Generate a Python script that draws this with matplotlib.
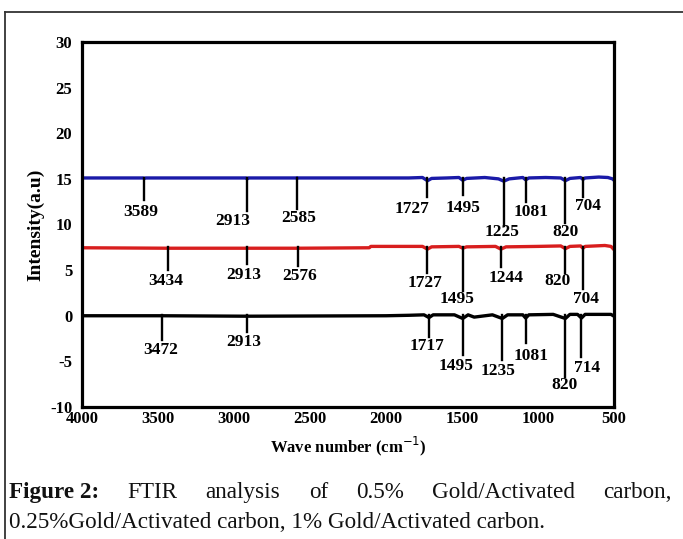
import matplotlib
matplotlib.use('Agg')
import matplotlib.pyplot as plt
from matplotlib.lines import Line2D

plt.rcParams['axes.unicode_minus'] = False

# spectra (wavenumber, intensity)
blue_x = [4000, 3600, 3589, 3580, 2920, 2913, 2905, 2590, 2585, 2580, 2000, 1850, 1760, 1727, 1700,
          1600, 1520, 1495, 1470, 1350, 1260, 1225, 1190, 1100, 1081, 1060, 950, 850, 820, 790,
          720, 704, 690, 600, 540, 510, 500]
blue_y = [15.1, 15.1, 15.05, 15.1, 15.1, 15.0, 15.1, 15.1, 15.05, 15.1, 15.1, 15.1, 15.15, 14.8, 15.05,
          15.1, 15.15, 14.85, 15.05, 15.15, 15.0, 14.75, 15.0, 15.15, 14.9, 15.1, 15.15, 15.1, 14.8, 15.05,
          15.15, 14.95, 15.1, 15.2, 15.15, 15.0, 14.85]

red_x = [4000, 3434, 2913, 2576, 2110, 2100, 1900, 1760, 1727, 1700, 1520, 1495, 1470, 1280, 1244,
         1210, 1000, 850, 820, 790, 720, 704, 690, 560, 520, 500]
red_y = [7.45, 7.4, 7.4, 7.4, 7.45, 7.6, 7.6, 7.6, 7.3, 7.55, 7.6, 7.4, 7.55, 7.6, 7.3,
         7.55, 7.6, 7.65, 7.35, 7.6, 7.65, 7.4, 7.6, 7.7, 7.6, 7.25]

black_x = [4000, 3472, 2913, 2000, 1850, 1750, 1717, 1690, 1550, 1495, 1460, 1420, 1300, 1235, 1200,
           1100, 1081, 1060, 900, 820, 790, 740, 714, 690, 520, 500]
black_y = [0, 0, -0.05, 0, 0.05, 0.1, -0.2, 0.1, 0.1, -0.3, 0.1, -0.15, 0.1, -0.3, 0.1,
           0.1, -0.25, 0.1, 0.15, -0.3, 0.15, 0.15, -0.25, 0.15, 0.15, -0.05]

# peak annotations: wavenumber, bottom of marker line, label x, label y
blue_peaks = [3589, 2913, 2585, 1727, 1495, 1225, 1081, 820, 704]
blue_base = 15.1
blue_end = [12.7, 11.5, 11.7, 13.0, 13.2, 9.8, 12.5, 10.2, 13.0]
blue_lx = [3614, 3009, 2577, 1831, 1496, 1239, 1046, 818, 669]
blue_ly = [11.4, 10.4, 10.7, 11.7, 11.8, 9.2, 11.4, 9.2, 12.0]

red_peaks = [3434, 2913, 2576, 1727, 1495, 1244, 820, 704]
red_base = 7.5
red_end = [5.0, 5.67, 5.45, 4.68, 2.75, 5.3, 4.72, 2.9]
red_lx = [3447, 2934, 2566, 1743, 1531, 1211, 873, 684]
red_ly = [3.84, 4.47, 4.36, 3.63, 1.84, 4.14, 3.85, 1.84]

black_peaks = [3472, 2913, 1717, 1495, 1235, 1081, 820, 714]
black_base = 0.05
black_end = [-2.65, -1.74, -2.3, -4.3, -4.85, -3.0, -6.75, -4.5]
black_lx = [3480, 2934, 1733, 1539, 1261, 1046, 827, 680]
black_ly = [-3.75, -2.84, -3.3, -5.47, -6.1, -4.4, -7.6, -5.77]

xticks = [4000, 3500, 3000, 2500, 2000, 1500, 1000, 500]
yticks = [-10, -5, 0, 5, 10, 15, 20, 25, 30]

serif = ['Liberation Serif', 'DejaVu Serif']

fig = plt.figure(figsize=(6.83, 5.39), dpi=100)
ax = fig.add_axes([82/683, 132/539, 532/683, 365/539])

ax.plot(blue_x, blue_y, color='#1a1aa8', lw=2.4)
ax.plot(red_x, red_y, color='#d81e1e', lw=2.4)
ax.plot(black_x, black_y, color='black', lw=2.4)

for peaks, base, ends, lx, ly in [(blue_peaks, blue_base, blue_end, blue_lx, blue_ly),
                                  (red_peaks, red_base, red_end, red_lx, red_ly),
                                  (black_peaks, black_base, black_end, black_lx, black_ly)]:
    for p, e, tx, ty in zip(peaks, ends, lx, ly):
        ax.plot([p, p], [base, e], color='black', lw=1.7)
        ax.text(tx, ty, str(p), ha='center', va='center', fontsize=12.5,
                fontweight='bold', family=serif)

ax.set_xlim(4000, 500)
ax.set_ylim(-10, 30)
ax.set_xticks(xticks)
ax.set_yticks(yticks)
ax.tick_params(length=0, labelsize=12)
ax.tick_params(axis='y', pad=7)
ax.tick_params(axis='x', pad=3)
for lab in ax.get_xticklabels() + ax.get_yticklabels():
    lab.set_fontweight('bold')
    lab.set_family(serif)
for sp in ax.spines.values():
    sp.set_linewidth(2.3)

ax.set_xlabel('Wave number (cm$^{-1}$)', fontsize=12, fontweight='bold', family=serif)
ax.xaxis.set_label_coords(0.5, -0.075)
ax.set_ylabel('Intensity(a.u)', fontsize=14, fontweight='bold', family=serif)
ax.yaxis.set_label_coords(-0.07, 0.5)

# outer frame of the figure panel
fig.add_artist(Line2D([5/683, 1], [1 - 12/539, 1 - 12/539], color='#333333', lw=1.3))
fig.add_artist(Line2D([5/683, 5/683], [0, 1 - 12/539], color='#333333', lw=1.3))

# caption, first line justified
fig.canvas.draw()
renderer = fig.canvas.get_renderer()
cap_size = 16.7
left, right = 9/683, 672/683
y1 = (539 - 498)/539
y2 = (539 - 528)/539
words1 = [('Figure 2:', 'bold'), ('FTIR', 'normal'), ('analysis', 'normal'), ('of', 'normal'),
          ('0.5%', 'normal'), ('Gold/Activated', 'normal'), ('carbon,', 'normal')]
texts = [fig.text(0, y1, w, fontsize=cap_size, fontweight=wt, family=serif, color='#111111')
         for w, wt in words1]
widths = [t.get_window_extent(renderer).width / fig.bbox.width for t in texts]
gap = (right - left - sum(widths)) / (len(texts) - 1)
x = left
for t, w in zip(texts, widths):
    t.set_x(x)
    x += w + gap
fig.text(left, y2, '0.25%Gold/Activated carbon, 1% Gold/Activated carbon.', fontsize=cap_size,
         family=serif, color='#111111')

fig.savefig('out.png', dpi=100)
